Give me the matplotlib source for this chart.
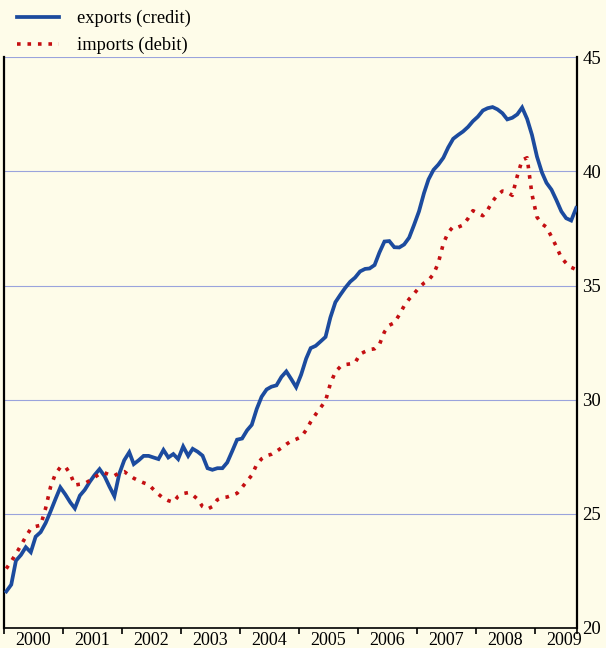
import matplotlib
matplotlib.use("Agg")
import matplotlib.pyplot as plt
import matplotlib.dates as mdates
from matplotlib.ticker import FixedLocator, FixedFormatter, NullFormatter
import pandas as pd

plt.rcParams["font.family"] = ["Liberation Serif", "DejaVu Serif"]

# Monthly series, January 2000 - September 2009 (billions)
exports = [
    21.6, 21.9, 22.95, 23.2, 23.54, 23.32, 24.0, 24.2, 24.6, 25.1, 25.65, 26.16,
    25.85, 25.5, 25.24, 25.8, 26.05, 26.4, 26.7, 26.96, 26.65, 26.2, 25.77, 26.75,
    27.35, 27.7, 27.18, 27.35, 27.54, 27.54, 27.47, 27.4, 27.8, 27.47, 27.62, 27.4,
    27.95, 27.54, 27.85, 27.72, 27.55, 27.0, 26.93, 27.0, 27.0, 27.25, 27.75, 28.25,
    28.3, 28.66, 28.9, 29.6, 30.13, 30.45, 30.57, 30.63, 31.0, 31.24, 30.9, 30.55,
    31.1, 31.8, 32.26, 32.36, 32.55, 32.75, 33.6, 34.27, 34.6, 34.9, 35.17, 35.35,
    35.62, 35.73, 35.75, 35.9, 36.45, 36.93, 36.95, 36.68, 36.67, 36.8, 37.1, 37.65,
    38.25, 39.05, 39.65, 40.07, 40.3, 40.6, 41.05, 41.43, 41.6, 41.75, 41.95, 42.2,
    42.4, 42.67, 42.77, 42.82, 42.72, 42.55, 42.28, 42.35, 42.5, 42.8, 42.3, 41.6,
    40.65, 39.95, 39.5, 39.2, 38.75, 38.25, 37.95, 37.85, 38.4,
]
imports = [
    22.6, 22.92, 23.25, 23.62, 24.0, 24.35, 24.45, 24.5, 25.25, 26.17, 26.76, 27.04,
    27.07, 26.74, 26.26, 26.3, 26.33, 26.46, 26.6, 26.75, 26.8, 26.71, 26.67, 26.8,
    26.85, 26.69, 26.56, 26.45, 26.36, 26.28, 26.07, 25.86, 25.68, 25.58, 25.51, 25.77,
    25.89, 25.93, 25.83, 25.64, 25.32, 25.21, 25.32, 25.62, 25.71, 25.74, 25.82, 25.9,
    26.16, 26.44, 26.69, 27.17, 27.41, 27.55, 27.61, 27.74, 27.89, 28.05, 28.19, 28.27,
    28.37, 28.67, 29.03, 29.36, 29.65, 29.95, 30.7, 31.22, 31.45, 31.54, 31.57, 31.62,
    32.0, 32.11, 32.2, 32.23, 32.42, 32.97, 33.26, 33.37, 33.72, 34.11, 34.41, 34.64,
    34.91, 35.11, 35.24, 35.5, 36.0, 36.84, 37.33, 37.58, 37.56, 37.65, 37.94, 38.28,
    38.17, 38.06, 38.31, 38.69, 38.97, 39.14, 39.1, 38.95, 39.8, 40.5, 40.6, 39.0,
    38.0, 37.7, 37.56, 37.14, 36.71, 36.22, 35.98, 35.8, 35.7,
]
years = list(range(2000, 2010))
year_labels = [str(y) for y in years]
y_ticks = [20, 25, 30, 35, 40, 45]

months = pd.date_range("2000-01-01", periods=len(exports), freq="MS") + pd.Timedelta(days=14)

BG = "#fefce9"
BLUE = "#1c4b9e"
RED = "#c40f12"
GRID = "#9aa3dc"

W, H = 606, 648
fig = plt.figure(figsize=(W / 100, H / 100), dpi=100, facecolor=BG)
ax = fig.add_axes([4 / W, 20 / H, 573 / W, 570.7 / H])
ax.set_facecolor(BG)

ax.plot(months, exports, color=BLUE, lw=2.7, solid_joinstyle="miter",
        label="exports (credit)", zorder=3)
ax.plot(months, imports, color=RED, lw=2.6, linestyle=(0, (1, 1.9)),
        dash_capstyle="butt", label="imports (debit)", zorder=4)

x0 = pd.Timestamp("2000-01-01")
x1 = pd.Timestamp("2009-09-20")
ax.set_xlim(x0, x1)
ax.set_ylim(20, 45)

# year boundaries carry tick marks, mid-year positions carry labels
bounds = [pd.Timestamp(f"{y}-01-01") for y in years] + [x1]
mids = [pd.Timestamp(f"{y}-07-02") for y in years]
ax.xaxis.set_major_locator(FixedLocator(mdates.date2num(bounds)))
ax.xaxis.set_major_formatter(NullFormatter())
ax.xaxis.set_minor_locator(FixedLocator(mdates.date2num(mids)))
ax.xaxis.set_minor_formatter(FixedFormatter(year_labels))
ax.tick_params(axis="x", which="major", direction="out", length=4.5, width=1.2,
               color="black")
ax.tick_params(axis="x", which="minor", length=0, labelsize=13, pad=3)

ax.yaxis.tick_right()
ax.set_yticks(y_ticks)
ax.set_yticklabels([str(v) for v in y_ticks])
ax.tick_params(axis="y", length=0, labelsize=13.5, pad=4)

ax.yaxis.grid(True, color=GRID, lw=0.8)
ax.set_axisbelow(True)

ax.spines["top"].set_visible(False)
for side in ("left", "right"):
    ax.spines[side].set_linewidth(1.6)
ax.spines["bottom"].set_linewidth(1.2)

fig.legend(loc="upper left", bbox_to_anchor=(17 / W, 1 - 10 / H),
           frameon=False, fontsize=13.3, handlelength=2.3, handletextpad=0.97,
           labelspacing=0.53, borderpad=0, borderaxespad=0)

fig.savefig("out.png", dpi=100, facecolor=BG)
